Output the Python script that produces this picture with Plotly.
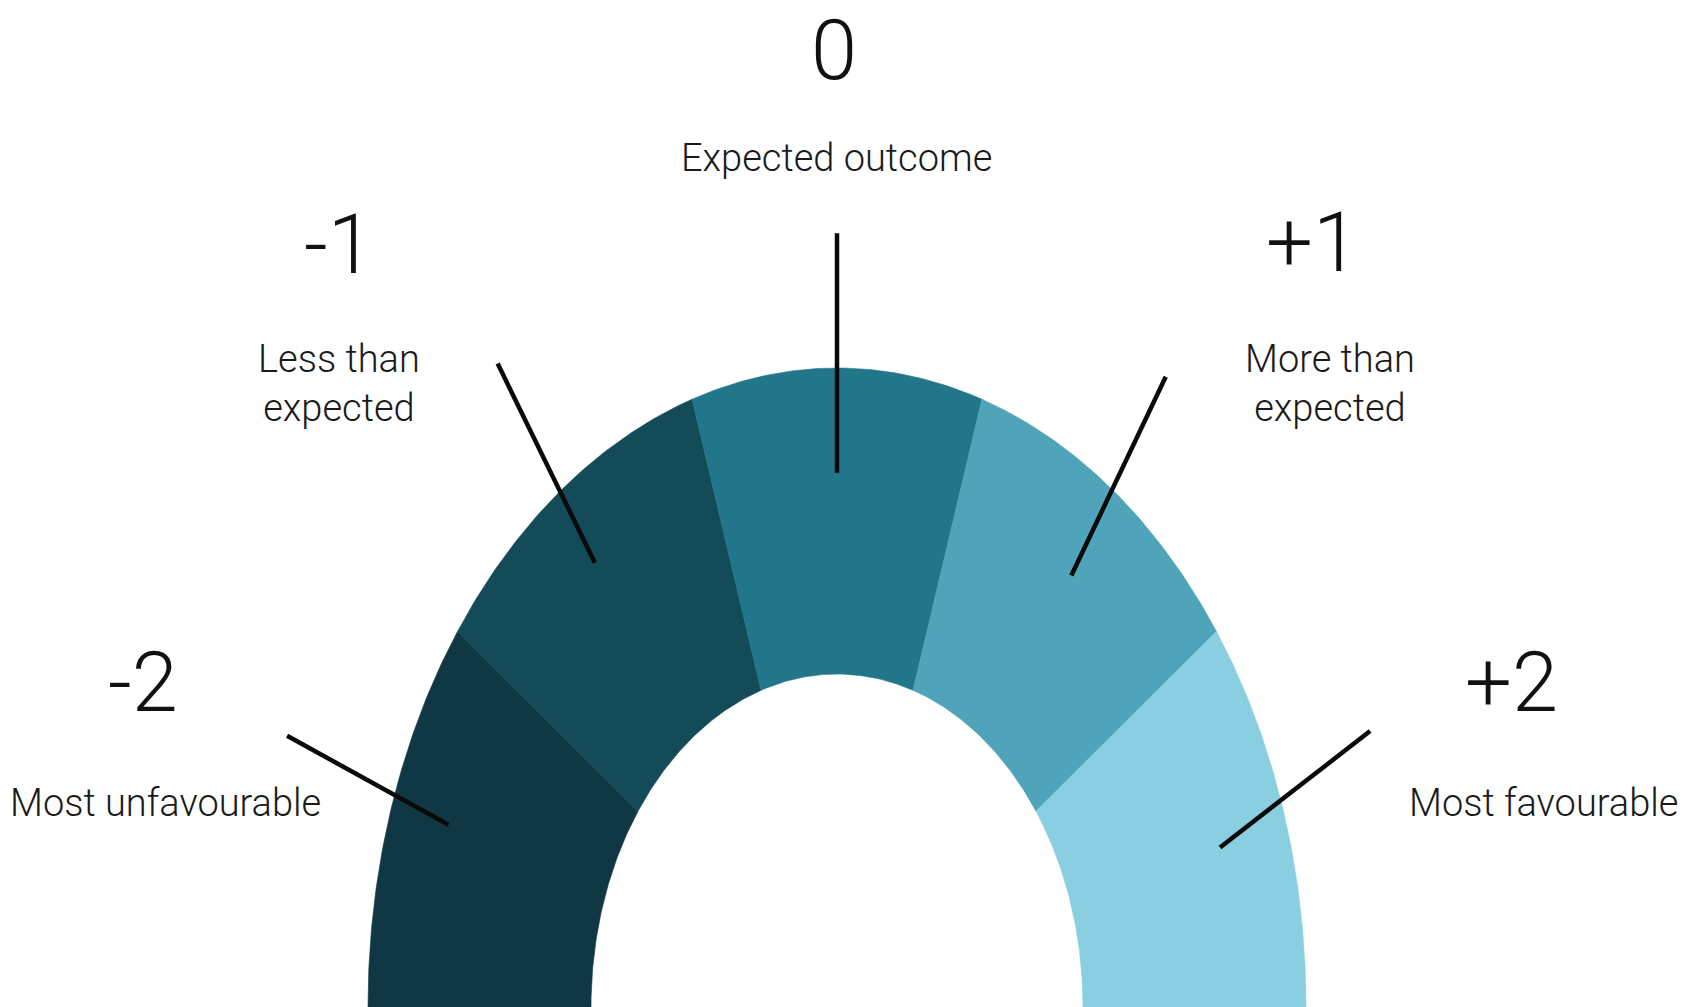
import numpy as np
import plotly.graph_objects as go

# ---- data ----
scores = ["-2", "-1", "0", "+1", "+2"]
descriptions = ["Most unfavourable", "Less than<br>expected", "Expected outcome",
                "More than<br>expected", "Most favourable"]
weights = [1, 1, 1, 1, 1]

# ---- styles / layout constants ----
colors = ["#0f3844", "#134b59", "#21768a", "#4fa4b9", "#89cfe1"]
W, H = 1698, 1007
CX, CY = 837, 0            # centre of gauge (y measured upward from bottom)
RX_OUT, RY_OUT = 469, 639
RX_IN, RY_IN = 246, 333
FONT = "Roboto, Lato, sans-serif"

# leader line geometry: (angle offset from segment middle [deg], radius as fraction of outer)
lead_start = [(-1.9, 1.247), (-0.3, 1.24), (0, 1.211), (0.6, 1.21), (2.8, 1.216)]
lead_end = [(-1.0, 0.876), (0.6, 0.866), (0, 0.836), (-0.5, 0.84), (-1.0, 0.854)]

# label anchor positions (pixels, y from top)
num_pos = [(143, 682), (339, 244), (834, 50), (1312, 242), (1511, 682)]
desc_pos = [(165, 803), (339, 383), (836, 158), (1330, 383), (1544, 803)]

total = sum(weights)
cum = np.concatenate([[0], np.cumsum(weights)])
angles = 180 - cum / total * 180  # degrees, left -> right

fig = go.Figure()
for i, s in enumerate(scores):
    a0, a1 = np.radians(angles[i]), np.radians(angles[i + 1])
    t = np.linspace(a0, a1, 80)
    xo = CX + RX_OUT * np.cos(t)
    yo = CY + RY_OUT * np.sin(t)
    xi = CX + RX_IN * np.cos(t[::-1])
    yi = CY + RY_IN * np.sin(t[::-1])
    fig.add_trace(go.Scatter(
        x=np.concatenate([xo, xi, [xo[0]]]),
        y=np.concatenate([yo, yi, [yo[0]]]),
        fill="toself", fillcolor=colors[i], mode="lines",
        line=dict(width=0.6, color=colors[i]), hoverinfo="text",
        text=s, showlegend=False))

# leader lines pointing into each segment
for i in range(len(scores)):
    mid = (angles[i] + angles[i + 1]) / 2
    pts = [lead_start[i], lead_end[i]]
    a = np.radians([mid + p[0] for p in pts])
    r = np.array([p[1] for p in pts])
    fig.add_trace(go.Scatter(
        x=CX + RX_OUT * r * np.cos(a), y=CY + RY_OUT * r * np.sin(a),
        mode="lines", line=dict(color="#0a0a0a", width=4.5),
        hoverinfo="skip", showlegend=False))

for i in range(len(scores)):
    fig.add_annotation(x=num_pos[i][0], y=H - num_pos[i][1], text=scores[i],
                       showarrow=False, xanchor="center", yanchor="middle",
                       font=dict(family=FONT, size=83, color="#111111", weight=300))
    fig.add_annotation(x=desc_pos[i][0], y=H - desc_pos[i][1], text=descriptions[i],
                       showarrow=False, xanchor="center", yanchor="middle",
                       font=dict(family=FONT, size=38, color="#1a1a1a", weight=300))

fig.update_layout(
    width=W, height=H, margin=dict(l=0, r=0, t=0, b=0),
    paper_bgcolor="white", plot_bgcolor="white",
    xaxis=dict(range=[0, W], visible=False, fixedrange=True),
    yaxis=dict(range=[0, H], visible=False, fixedrange=True),
)

fig.write_html("out.html")
